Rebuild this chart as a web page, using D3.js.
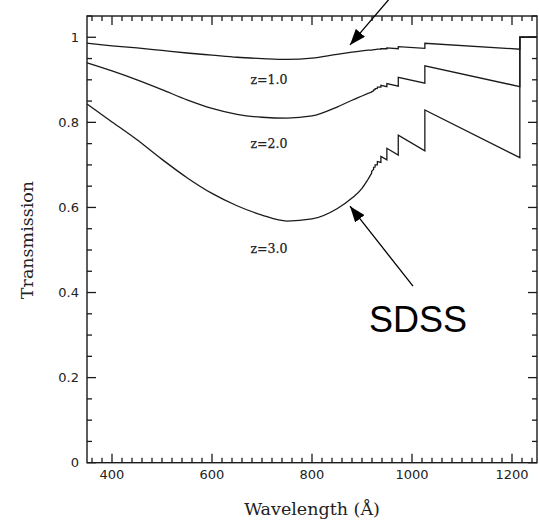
<!DOCTYPE html>
<html>
<head>
<meta charset="utf-8">
<script src="https://cdn.jsdelivr.net/npm/d3@7/dist/d3.min.js"></script>
<style>
  html, body { margin: 0; padding: 0; background: #fff; }
  svg { display: block; }
</style>
</head>
<body>
<svg id="chart" width="539" height="532"></svg>
<script>
// ---------------- data ----------------
// smooth part of the curves (blueward of the Lyman limit)
const smoothWave = [350, 400, 450, 500, 550, 600, 650, 700, 750, 800, 850, 880, 900, 912];
const z1Smooth = [0.986, 0.980, 0.975, 0.969, 0.963, 0.958, 0.953, 0.950, 0.948, 0.951, 0.960, 0.965, 0.968, 0.970];
const z2Smooth = [0.940, 0.921, 0.900, 0.877, 0.853, 0.833, 0.819, 0.812, 0.810, 0.815, 0.836, 0.852, 0.862, 0.868];
const z3Smooth = [0.843, 0.801, 0.759, 0.713, 0.670, 0.633, 0.604, 0.582, 0.568, 0.573, 0.597, 0.622, 0.645, 0.666];

// Lyman-series jumps (Angstrom) with the value just before / after each jump
const lymanLines = [919.35, 923.15, 926.23, 930.75, 937.80, 949.74, 972.54, 1025.72, 1215.67];
const z1Before = [0.970, 0.971, 0.971, 0.972, 0.972, 0.973, 0.973, 0.974, 0.972];
const z1After  = [0.970, 0.971, 0.971, 0.972, 0.973, 0.975, 0.978, 0.986, 1.000];
const z2Before = [0.871, 0.874, 0.877, 0.880, 0.883, 0.884, 0.885, 0.892, 0.884];
const z2After  = [0.872, 0.876, 0.879, 0.883, 0.887, 0.891, 0.906, 0.933, 1.000];
const z3Before = [0.681, 0.689, 0.695, 0.700, 0.706, 0.712, 0.723, 0.733, 0.717];
const z3After  = [0.685, 0.694, 0.700, 0.708, 0.720, 0.739, 0.770, 0.829, 1.000];
const endWave = 1250, endValue = 1.0;

const seriesNames = ["z=1.0", "z=2.0", "z=3.0"];
const labelWave = [714, 714, 714];
const labelValue = [0.889, 0.739, 0.494];

const xTicks = [400, 600, 800, 1000, 1200];
const yTicks = [0, 0.2, 0.4, 0.6, 0.8, 1];

// annotation (data units)
const arrowTop = { from: [956, 1.092], to: [876, 0.982] };
const arrowBottom = { from: [1002, 0.415], to: [876, 0.603] };
const sdssText = "SDSS", sdssPos = [914, 0.307];

// ---------------- layout ----------------
const svg = d3.select("#chart");
const margin = { left: 87, top: 16, right: 2, bottom: 69.3 };
const W = 539 - margin.left - margin.right;
const H = 532 - margin.top - margin.bottom;

const x = d3.scaleLinear().domain([350, 1250]).range([0, W]);
const y = d3.scaleLinear().domain([0, 1.05]).range([H, 0]);

const g = svg.append("g").attr("transform", `translate(${margin.left},${margin.top})`);

const minorX = d3.range(360, 1250, 20).filter(v => v % 200 !== 0);
const minorY = d3.range(0, 1.051, 0.05).map(v => +v.toFixed(2)).filter(v => Math.round(v * 100) % 20 !== 0);

const ink = "#1a1a1a";
const tickFont = "'DejaVu Sans', sans-serif";
const MAJ = 9, MIN = 5;

// frame
g.append("rect").attr("x", 0).attr("y", 0).attr("width", W).attr("height", H)
  .attr("fill", "none").attr("stroke", ink).attr("stroke-width", 1.4);

// tick marks (inside, on all four sides)
const tickG = g.append("g").attr("stroke", ink).attr("stroke-width", 1.3);
const xTickData = xTicks.map(v => ({ v, len: MAJ })).concat(minorX.map(v => ({ v, len: MIN })));
const yTickData = yTicks.map(v => ({ v, len: MAJ })).concat(minorY.map(v => ({ v, len: MIN })));

tickG.selectAll("line.xb").data(xTickData).enter().append("line").attr("class", "xb")
  .attr("x1", d => x(d.v)).attr("x2", d => x(d.v)).attr("y1", H).attr("y2", d => H - d.len);
tickG.selectAll("line.xt").data(xTickData).enter().append("line").attr("class", "xt")
  .attr("x1", d => x(d.v)).attr("x2", d => x(d.v)).attr("y1", 0).attr("y2", d => d.len);
tickG.selectAll("line.yl").data(yTickData).enter().append("line").attr("class", "yl")
  .attr("y1", d => y(d.v)).attr("y2", d => y(d.v)).attr("x1", 0).attr("x2", d => d.len);
tickG.selectAll("line.yr").data(yTickData).enter().append("line").attr("class", "yr")
  .attr("y1", d => y(d.v)).attr("y2", d => y(d.v)).attr("x1", W).attr("x2", d => W - d.len);

// tick labels
g.selectAll("text.xl").data(xTicks).enter().append("text").attr("class", "xl")
  .attr("x", d => x(d)).attr("y", H + 7).attr("dy", "0.71em")
  .attr("text-anchor", "middle")
  .attr("font-family", tickFont).attr("font-size", 13).attr("fill", "#222")
  .text(d3.format("d"));
g.selectAll("text.yl").data(yTicks).enter().append("text").attr("class", "yl")
  .attr("x", -8).attr("y", d => y(d)).attr("dy", "0.36em")
  .attr("text-anchor", "end")
  .attr("font-family", tickFont).attr("font-size", 13).attr("fill", "#222")
  .text(d => d === 0 ? "0" : d === 1 ? "1" : d3.format(".1f")(d));

// ---------------- curves ----------------
const smoothLine = d3.line().x(d => x(d[0])).y(d => y(d[1])).curve(d3.curveMonotoneX);
const straightLine = d3.line().x(d => x(d[0])).y(d => y(d[1]));

const series = [
  [z1Smooth, z1Before, z1After],
  [z2Smooth, z2Before, z2After],
  [z3Smooth, z3Before, z3After]
];

series.forEach(([sm, bef, aft]) => {
  const smoothPts = smoothWave.map((w, i) => [w, sm[i]]);
  const sawPts = [[smoothWave[smoothWave.length - 1], sm[sm.length - 1]]];
  lymanLines.forEach((w, i) => { sawPts.push([w, bef[i]]); sawPts.push([w, aft[i]]); });
  sawPts.push([endWave, endValue]);
  g.append("path").attr("d", smoothLine(smoothPts))
    .attr("fill", "none").attr("stroke", ink).attr("stroke-width", 1.3);
  g.append("path").attr("d", straightLine(sawPts))
    .attr("fill", "none").attr("stroke", ink).attr("stroke-width", 1.3).attr("stroke-linejoin", "miter");
});

// series labels
g.selectAll("text.zlab").data(seriesNames).enter().append("text")
  .attr("class", "zlab")
  .attr("x", (d, i) => x(labelWave[i])).attr("y", (d, i) => y(labelValue[i]))
  .attr("text-anchor", "middle")
  .attr("font-family", "'DejaVu Serif', serif").attr("font-size", 12.5)
  .attr("fill", "#222").attr("stroke", "#222").attr("stroke-width", 0.25)
  .text(d => d);

// axis titles
svg.append("text")
  .attr("transform", `translate(32.5,240) rotate(-90)`)
  .attr("text-anchor", "middle")
  .attr("font-family", "'DejaVu Serif', serif").attr("font-size", 17.5).attr("fill", "#222")
  .text("Transmission");
svg.append("text")
  .attr("x", margin.left + W / 2).attr("y", 515)
  .attr("text-anchor", "middle")
  .attr("font-family", "'DejaVu Serif', serif").attr("font-size", 17.5).attr("fill", "#222")
  .text("Wavelength (Å)");

// ---------------- annotations ----------------
const defs = svg.append("defs");
defs.append("marker").attr("id", "ah")
  .attr("viewBox", "0 0 16 12").attr("refX", 16).attr("refY", 6)
  .attr("markerWidth", 16).attr("markerHeight", 12)
  .attr("markerUnits", "userSpaceOnUse").attr("orient", "auto")
  .append("path").attr("d", "M0,0 L16,6 L0,12 Z").attr("fill", "#000");

[arrowTop, arrowBottom].forEach(a => {
  g.append("line")
    .attr("x1", x(a.from[0])).attr("y1", y(a.from[1]))
    .attr("x2", x(a.to[0])).attr("y2", y(a.to[1]))
    .attr("stroke", "#000").attr("stroke-width", 1.3)
    .attr("marker-end", "url(#ah)");
});

g.append("text")
  .attr("x", x(sdssPos[0])).attr("y", y(sdssPos[1]))
  .attr("font-family", "'Liberation Sans', Arial, sans-serif").attr("font-size", 36)
  .attr("fill", "#000")
  .text(sdssText);
</script>
</body>
</html>
